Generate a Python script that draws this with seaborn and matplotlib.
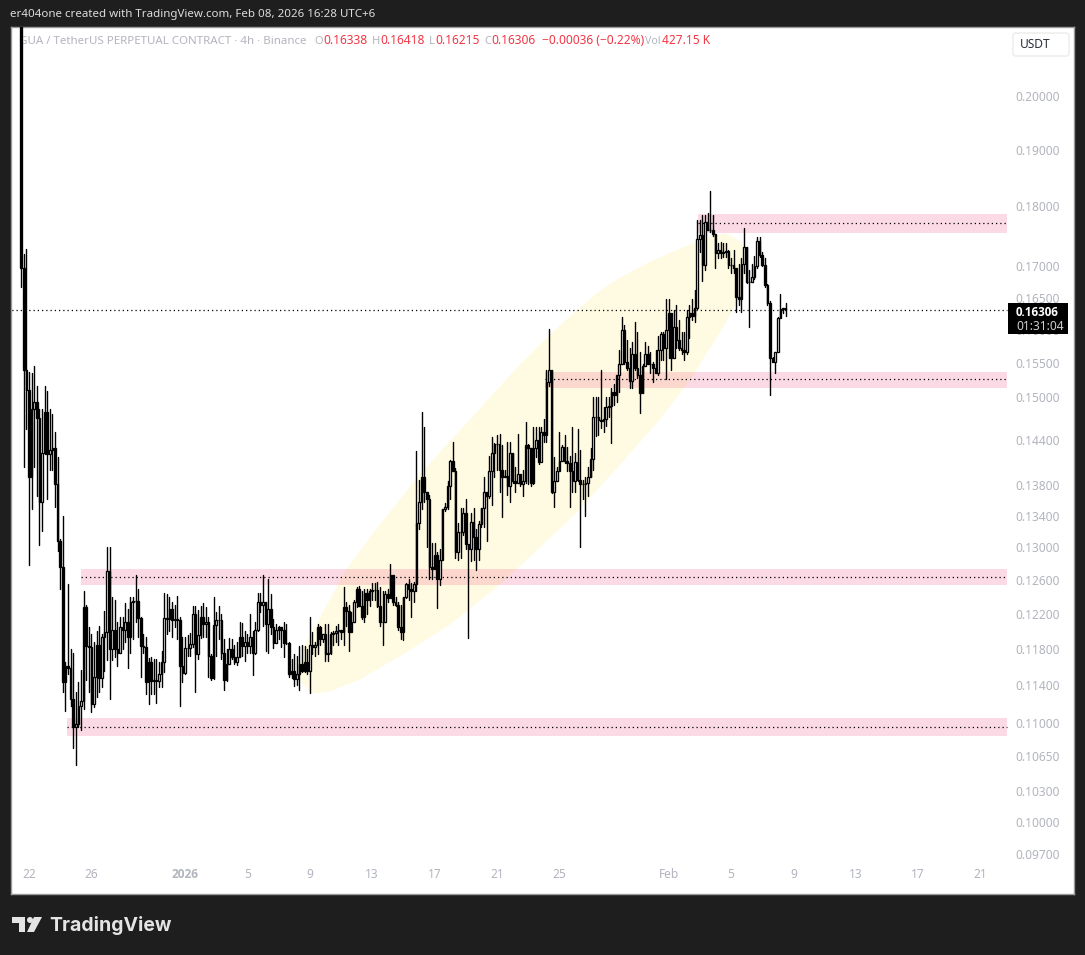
import numpy as np
import pandas as pd
import seaborn as sns
import matplotlib
matplotlib.use('Agg')
import matplotlib.pyplot as plt
from matplotlib.patches import FancyBboxPatch, Rectangle, Polygon, Circle
from matplotlib.transforms import Affine2D

first_open = 0.2300

closes = [
    .1697, .1540, .1511, .1391, .1483, .1493, .1471, .1358, .1423, .1480,
    .1421, .1427, .1430, .1381, .1308, .1276, .1143, .1161, .1159, .1125,
    .1095, .1098, .1117, .1123, .1228, .1183, .1182, .1120, .1149, .1185,
    .1148, .1194, .1199, .1271, .1180, .1201, .1180, .1176, .1205, .1202,
    .1211, .1193, .1234, .1235, .1235, .1215, .1183, .1182, .1143, .1165,
    .1145, .1146, .1145, .1152, .1165, .1215, .1214, .1226, .1213, .1214,
    .1213, .1161, .1153, .1181, .1181, .1186, .1220, .1174, .1196, .1216,
    .1208, .1211, .1172, .1148, .1207, .1213, .1213, .1176, .1146, .1163,
    .1180, .1171, .1165, .1171, .1193, .1183, .1188, .1183, .1193, .1175,
    .1201, .1234, .1230, .1234, .1208, .1226, .1205, .1187, .1202, .1205,
    .1201, .1187, .1187, .1152, .1155, .1147, .1152, .1163, .1155, .1165,
    .1155, .1185, .1182, .1185, .1205, .1191, .1197, .1174, .1175, .1197,
    .1198, .1200, .1202, .1199, .1228, .1223, .1199, .1211, .1234, .1249,
    .1229, .1216, .1245, .1237, .1247, .1248, .1248, .1229, .1211, .1211,
    .1244, .1239, .1266, .1234, .1231, .1205, .1199, .1240, .1256, .1249,
    .1247, .1255, .1331, .1358, .1391, .1370, .1361, .1276, .1273, .1291,
    .1261, .1285, .1348, .1351, .1378, .1412, .1399, .1294, .1319, .1319,
    .1343, .1304, .1298, .1332, .1313, .1298, .1330, .1350, .1370, .1365,
    .1399, .1423, .1435, .1435, .1400, .1391, .1392, .1378, .1423, .1385,
    .1383, .1394, .1381, .1385, .1434, .1430, .1383, .1430, .1441, .1411,
    .1451, .1447, .1522, .1540, .1370, .1385, .1399, .1412, .1431, .1412,
    .1409, .1399, .1385, .1411, .1387, .1381, .1381, .1382, .1391, .1414,
    .1473, .1472, .1468, .1467, .1470, .1487, .1488, .1508, .1504, .1533,
    .1549, .1599, .1551, .1543, .1524, .1563, .1543, .1533, .1507, .1545,
    .1563, .1548, .1549, .1543, .1536, .1570, .1593, .1572, .1600, .1626,
    .1558, .1605, .1585, .1573, .1570, .1566, .1620, .1626, .1621, .1634,
    .1745, .1752, .1702, .1773, .1760, .1760, .1754, .1722, .1727, .1722,
    .1724, .1725, .1702, .1702, .1697, .1651, .1647, .1704, .1731, .1675,
    .1675, .1683, .1700, .1741, .1719, .1702, .1670, .1642, .1557, .1552,
    .1566, .1618, .1632, .16338, .16306,
]

highs = [
    .2340, .1720, .1729, .1537, .1536, .1545, .1517, .1483, .1483, .1517,
    .1510, .1484, .1477, .1452, .1417, .1310, .1339, .1165, .1256, .1180,
    .1176, .1132, .1143, .1157, .1247, .1230, .1205, .1197, .1188, .1200,
    .1206, .1197, .1223, .1300, .1301, .1240, .1237, .1211, .1217, .1217,
    .1233, .1226, .1240, .1240, .1266, .1249, .1217, .1197, .1193, .1170,
    .1171, .1169, .1169, .1165, .1178, .1245, .1243, .1240, .1234, .1231,
    .1241, .1217, .1193, .1193, .1196, .1198, .1229, .1229, .1225, .1229,
    .1233, .1228, .1216, .1174, .1240, .1222, .1229, .1220, .1191, .1180,
    .1192, .1191, .1185, .1188, .1211, .1210, .1200, .1197, .1220, .1200,
    .1211, .1245, .1245, .1266, .1234, .1262, .1243, .1214, .1208, .1206,
    .1205, .1211, .1208, .1188, .1169, .1174, .1172, .1183, .1185, .1183,
    .1180, .1216, .1199, .1188, .1208, .1206, .1197, .1208, .1208, .1199,
    .1200, .1206, .1208, .1202, .1252, .1234, .1231, .1222, .1237, .1252,
    .1253, .1247, .1249, .1249, .1249, .1257, .1257, .1258, .1252, .1247,
    .1247, .1249, .1280, .1266, .1240, .1234, .1231, .1240, .1257, .1261,
    .1257, .1258, .1425, .1387, .1480, .1458, .1370, .1367, .1306, .1306,
    .1294, .1298, .1349, .1356, .1385, .1413, .1438, .1403, .1331, .1350,
    .1350, .1361, .1304, .1343, .1350, .1323, .1333, .1350, .1391, .1371,
    .1419, .1445, .1436, .1447, .1448, .1434, .1400, .1438, .1438, .1423,
    .1404, .1448, .1394, .1400, .1465, .1435, .1430, .1459, .1459, .1458,
    .1459, .1469, .1540, .1601, .1540, .1417, .1404, .1451, .1434, .1447,
    .1431, .1418, .1458, .1423, .1455, .1427, .1387, .1390, .1404, .1430,
    .1501, .1501, .1500, .1540, .1487, .1501, .1501, .1514, .1519, .1533,
    .1570, .1620, .1608, .1585, .1573, .1582, .1612, .1597, .1567, .1548,
    .1582, .1575, .1566, .1552, .1570, .1590, .1597, .1596, .1647, .1647,
    .1623, .1631, .1639, .1615, .1597, .1596, .1631, .1639, .1647, .1662,
    .1777, .1777, .1786, .1786, .1789, .1826, .1786, .1754, .1738, .1740,
    .1738, .1738, .1727, .1713, .1727, .1694, .1704, .1713, .1764, .1731,
    .1694, .1704, .1716, .1749, .1749, .1724, .1713, .1671, .1644, .1559,
    .1567, .1620, .1656, .1634, .16418,
]

lows = [
    .1666, .1404, .1455, .1279, .1348, .1404, .1365, .1303, .1321, .1421,
    .1361, .1400, .1400, .1351, .1295, .1250, .1133, .1112, .1152, .1117,
    .1074, .1056, .1095, .1092, .1114, .1146, .1133, .1111, .1116, .1127,
    .1132, .1138, .1155, .1168, .1125, .1168, .1171, .1161, .1176, .1180,
    .1188, .1159, .1176, .1191, .1211, .1194, .1149, .1176, .1130, .1120,
    .1130, .1130, .1121, .1138, .1138, .1154, .1197, .1200, .1193, .1205,
    .1191, .1117, .1143, .1152, .1172, .1172, .1182, .1132, .1169, .1192,
    .1194, .1194, .1149, .1146, .1147, .1172, .1191, .1169, .1135, .1145,
    .1163, .1169, .1163, .1162, .1171, .1172, .1166, .1176, .1176, .1151,
    .1174, .1200, .1222, .1206, .1178, .1176, .1197, .1181, .1188, .1191,
    .1182, .1171, .1186, .1149, .1148, .1139, .1140, .1135, .1154, .1154,
    .1152, .1131, .1174, .1172, .1174, .1185, .1188, .1166, .1166, .1174,
    .1185, .1188, .1185, .1191, .1185, .1206, .1178, .1199, .1211, .1228,
    .1229, .1214, .1211, .1220, .1229, .1237, .1237, .1228, .1206, .1185,
    .1211, .1234, .1240, .1231, .1229, .1202, .1191, .1190, .1239, .1237,
    .1217, .1234, .1247, .1323, .1348, .1358, .1301, .1261, .1261, .1273,
    .1227, .1254, .1285, .1346, .1348, .1361, .1399, .1287, .1285, .1287,
    .1316, .1298, .1192, .1283, .1285, .1272, .1285, .1326, .1326, .1308,
    .1363, .1354, .1391, .1400, .1370, .1338, .1391, .1367, .1357, .1383,
    .1370, .1383, .1378, .1365, .1383, .1381, .1378, .1381, .1417, .1408,
    .1437, .1437, .1438, .1517, .1369, .1351, .1385, .1399, .1412, .1409,
    .1399, .1351, .1371, .1371, .1385, .1300, .1361, .1340, .1365, .1391,
    .1400, .1446, .1447, .1457, .1452, .1460, .1472, .1436, .1489, .1493,
    .1508, .1548, .1549, .1540, .1514, .1514, .1540, .1528, .1478, .1507,
    .1545, .1548, .1536, .1523, .1536, .1533, .1555, .1555, .1526, .1558,
    .1540, .1558, .1573, .1570, .1563, .1555, .1563, .1588, .1615, .1612,
    .1632, .1723, .1676, .1694, .1760, .1757, .1750, .1697, .1713, .1713,
    .1715, .1715, .1697, .1689, .1689, .1628, .1639, .1628, .1689, .1673,
    .1604, .1675, .1680, .1697, .1715, .1700, .1667, .1639, .1503, .1551,
    .1536, .1566, .1618, .1626, .16215,
]

# support and resistance zones: start, top, bottom, dotted mid line
zone_starts = ['2026-02-02 21:00', '2026-01-24 02:00', '2025-12-25 08:00', '2025-12-24 10:00']
zone_tops = [.1787, .1537, .1274, .1105]
zone_bottoms = [.1755, .1513, .1254, .1086]
zone_mids = [.1772, .1526, .1264, .1095]
zone_end = '2026-02-22 16:00'

# yellow arc outline, days after Dec 22 and price
arc_days = [17.18, 17.69, 19.29, 20.26, 22.5, 25.06, 28.27, 31.47, 33.4, 35.3, 36.6, 38.2, 39.8, 41.4, 42.56, 43.7, 44.6, 45.4,
            45.9, 46.1, 45.6, 44.6, 42.4, 40.45, 37.9, 35.3, 32.76, 30.2, 27.0, 23.8, 21.2, 19.3, 18.14, 17.5]
arc_prices = [.1157, .1185, .1237, .1271, .1329, .1394, .1469, .1548, .1593, .1634, .1661, .1686, .1707, .1725, .1738, .1749, .1754, .1745,
              .1730, .1707, .1653, .1608, .1526, .1469, .1407, .1348, .1300, .1255, .1208, .1172, .1146, .1133, .1131, .1142]

last_price = 0.16306

y_ticks = [.20, .19, .18, .17, .165, .16, .155, .15, .144, .138, .134, .13, .126, .122, .118, .114, .11, .1065, .103, .10, .097]
x_tick_dates = ['2025-12-22', '2025-12-26', '2026-01-01', '2026-01-05', '2026-01-09', '2026-01-13', '2026-01-17',
                '2026-01-21', '2026-01-25', '2026-02-01', '2026-02-05', '2026-02-09', '2026-02-13', '2026-02-17', '2026-02-21']
x_tick_labels = ['22', '26', '2026', '5', '9', '13', '17', '21', '25', 'Feb', '5', '9', '13', '17', '21']

GREY = '#b2b5be'
RED = '#f23645'

sns.set_theme(style='white')
plt.rcParams['font.family'] = ['Noto Sans', 'DejaVu Sans']

fig = plt.figure(figsize=(10.85, 9.55), dpi=100, facecolor='#1e1e1e')
ax = fig.add_axes([11 / 1085, 61 / 955, 1063 / 1085, 867 / 955], facecolor='white')
px = Affine2D().scale(1 / 1085, -1 / 955).translate(0, 1) + fig.transFigure

times = pd.date_range('2025-12-21 12:00', periods=len(closes), freq='4h')
opens = [first_open] + closes[:-1]
day0 = pd.Timestamp('2025-12-22')

candles = pd.DataFrame({'time': times, 'open': opens, 'high': highs, 'low': lows, 'close': closes})
candles['candle'] = np.arange(len(candles))
wicks = candles.melt(id_vars=['time', 'candle'], value_vars=['high', 'low'], value_name='price')

ax.set_yscale('log')

# arc and zones go under the candles
arc_x = [day0 + pd.Timedelta(days=d) for d in arc_days]
ax.fill(arc_x, arc_prices, color='#fffbe2', lw=0, zorder=1)
for start, top, bottom, mid in zip(zone_starts, zone_tops, zone_bottoms, zone_mids):
    ax.fill_between([pd.Timestamp(start), pd.Timestamp(zone_end)], bottom, top, color='#e91e63', alpha=0.16, lw=0, zorder=1.5)
    ax.plot([pd.Timestamp(start), pd.Timestamp(zone_end)], [mid, mid], color='black', lw=0.9, ls=(0, (1, 2.4)), zorder=1.8)
ax.plot([times[0] - pd.Timedelta(days=2), pd.Timestamp(zone_end)], [last_price, last_price],
        color='black', lw=0.9, ls=(0, (1, 2.4)), zorder=1.8)

sns.lineplot(data=wicks, x='time', y='price', units='candle', estimator=None, color='black',
             linewidth=1.0, legend=False, ax=ax, zorder=2)

bottoms = candles[['open', 'close']].min(axis=1)
tops = candles[['open', 'close']].max(axis=1)
colors = ['white' if c >= o else 'black' for o, c in zip(candles['open'], candles['close'])]
ax.bar(candles['time'], tops - bottoms, bottom=bottoms, width=0.11, color=colors,
       edgecolor='black', linewidth=0.95, zorder=3)

ax.set_xlim(day0 - pd.Timedelta(days=1.154), day0 + pd.Timedelta(days=66.99))
ax.set_ylim(0.0934, 0.2136)
ax.set_xlabel('')
ax.set_ylabel('')

ax.yaxis.tick_right()
ax.set_yticks(y_ticks)
ax.set_yticklabels(['%.5f' % v for v in y_ticks])
ax.minorticks_off()
ax.tick_params(axis='y', length=0, pad=-42, labelsize=8.6, labelcolor=GREY)
ax.set_xticks(pd.to_datetime(x_tick_dates))
ax.set_xticklabels(x_tick_labels)
ax.tick_params(axis='x', length=0, pad=-19, labelsize=8.6, labelcolor=GREY)
for lab in ax.get_xticklabels():
    if lab.get_text() == '2026':
        lab.set_fontweight('bold')
        lab.set_family(['Open Sans', 'DejaVu Sans'])
for lab in ax.get_yticklabels():
    lab.set_ha('left')

for side, spine in ax.spines.items():
    spine.set_color('#9b9b9b')
    spine.set_linewidth(1)

# header line, sits under the candles like in the app
header = [(19, 'GUA / TetherUS PERPETUAL CONTRACT · 4h · Binance', GREY, 8.3), (314, 'O', GREY, 8.0), (323, '0.16338', RED, 8.6),
          (372, 'H', GREY, 8.0), (380, '0.16418', RED, 8.6), (429, 'L', GREY, 8.0), (435, '0.16215', RED, 8.6), (484, 'C', GREY, 8.0),
          (491, '0.16306', RED, 8.6), (542, '−0.00036 (−0.22%)', RED, 8.6), (645, 'Vol', GREY, 7.6), (662, '427.15 K', RED, 8.6)]
for x, s, col, size in header:
    ax.text(x, 41, s, transform=px, color=col, fontsize=size, va='center', ha='left', zorder=0.5, clip_on=False)

fig.text(10, 15, 'er404one created with TradingView.com, Feb 08, 2026 16:28 UTC+6', transform=px,
         color='#dcdcdc', fontsize=8.3, va='center', ha='left')

# USDT button and last price tag
ax.add_patch(FancyBboxPatch((1013, 33), 56, 23, boxstyle='round,pad=0,rounding_size=3', transform=px,
                            facecolor='white', edgecolor='#ececec', lw=1, zorder=6, clip_on=False))
ax.text(1020, 44, 'USDT', transform=px, color='#2a2e39', fontsize=8.6, va='center', ha='left', zorder=7)
ax.add_patch(Rectangle((1008, 303), 60, 31, transform=px, facecolor='black', edgecolor='none', zorder=6, clip_on=False))
ax.text(1016, 312, '0.16306', transform=px, color='white', fontsize=8.4, fontweight='bold',
        family=['Open Sans', 'DejaVu Sans'], va='center', ha='left', zorder=7)
ax.text(1016, 326, '01:31:04', transform=px, color='#cfcfcf', fontsize=8.6, va='center', ha='left', zorder=7)

# TradingView logo
logo = '#e4e4e4'
fig.patches.append(Polygon([(12, 917), (25, 917), (25, 932), (19, 932), (19, 923), (12, 923)], transform=px, facecolor=logo, edgecolor='none'))
fig.patches.append(Circle((30, 920), 3, transform=px, facecolor=logo, edgecolor='none'))
fig.patches.append(Polygon([(34, 917), (42, 917), (34, 932), (27, 932)], transform=px, facecolor=logo, edgecolor='none'))
fig.text(49, 925, 'TradingView', transform=px, color=logo, fontsize=14, fontweight='bold', family=['Inter', 'DejaVu Sans'], va='center', ha='left')

fig.savefig('out.png', dpi=100, facecolor=fig.get_facecolor())
